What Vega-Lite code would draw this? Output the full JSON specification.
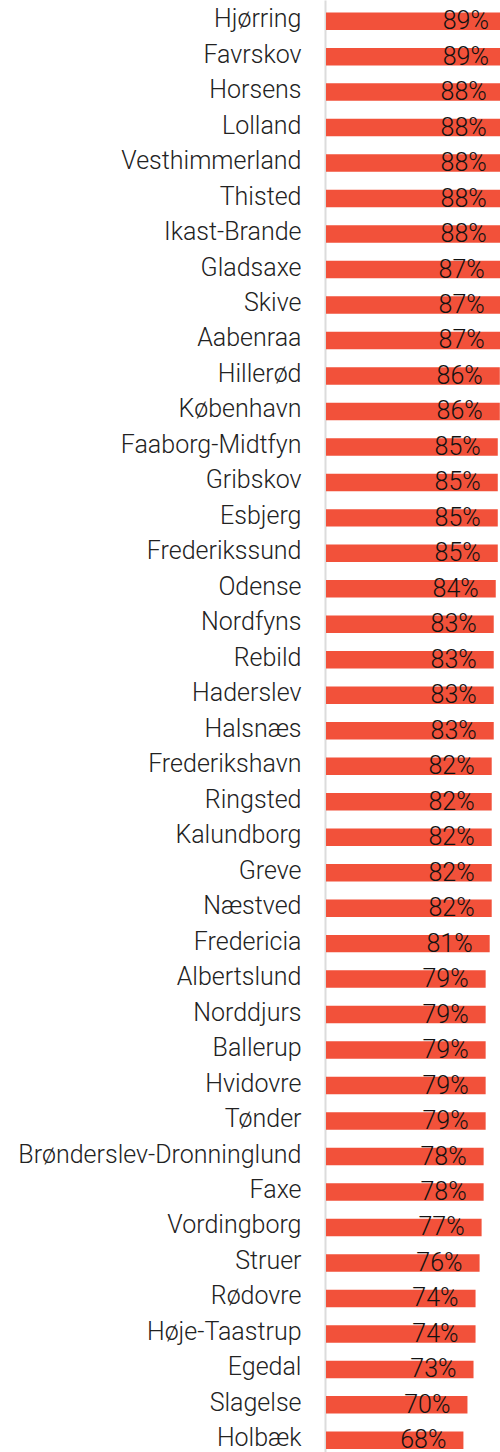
{
  "$schema": "https://vega.github.io/schema/vega-lite/v6.json",
  "autosize": {"type": "none"},
  "padding": {"left": 326, "top": 0, "right": 0, "bottom": 0},
  "width": 174,
  "height": 1452,
  "background": "white",
  "config": {"view": {"stroke": null}},
  "data": {"values": [
    {"kommune": "Hjørring", "pct": 0.89},
    {"kommune": "Favrskov", "pct": 0.89},
    {"kommune": "Horsens", "pct": 0.88},
    {"kommune": "Lolland", "pct": 0.88},
    {"kommune": "Vesthimmerland", "pct": 0.88},
    {"kommune": "Thisted", "pct": 0.88},
    {"kommune": "Ikast-Brande", "pct": 0.88},
    {"kommune": "Gladsaxe", "pct": 0.87},
    {"kommune": "Skive", "pct": 0.87},
    {"kommune": "Aabenraa", "pct": 0.87},
    {"kommune": "Hillerød", "pct": 0.86},
    {"kommune": "København", "pct": 0.86},
    {"kommune": "Faaborg-Midtfyn", "pct": 0.85},
    {"kommune": "Gribskov", "pct": 0.85},
    {"kommune": "Esbjerg", "pct": 0.85},
    {"kommune": "Frederikssund", "pct": 0.85},
    {"kommune": "Odense", "pct": 0.84},
    {"kommune": "Nordfyns", "pct": 0.83},
    {"kommune": "Rebild", "pct": 0.83},
    {"kommune": "Haderslev", "pct": 0.83},
    {"kommune": "Halsnæs", "pct": 0.83},
    {"kommune": "Frederikshavn", "pct": 0.82},
    {"kommune": "Ringsted", "pct": 0.82},
    {"kommune": "Kalundborg", "pct": 0.82},
    {"kommune": "Greve", "pct": 0.82},
    {"kommune": "Næstved", "pct": 0.82},
    {"kommune": "Fredericia", "pct": 0.81},
    {"kommune": "Albertslund", "pct": 0.79},
    {"kommune": "Norddjurs", "pct": 0.79},
    {"kommune": "Ballerup", "pct": 0.79},
    {"kommune": "Hvidovre", "pct": 0.79},
    {"kommune": "Tønder", "pct": 0.79},
    {"kommune": "Brønderslev-Dronninglund", "pct": 0.78},
    {"kommune": "Faxe", "pct": 0.78},
    {"kommune": "Vordingborg", "pct": 0.77},
    {"kommune": "Struer", "pct": 0.76},
    {"kommune": "Rødovre", "pct": 0.74},
    {"kommune": "Høje-Taastrup", "pct": 0.74},
    {"kommune": "Egedal", "pct": 0.73},
    {"kommune": "Slagelse", "pct": 0.70},
    {"kommune": "Holbæk", "pct": 0.68}
  ]},
  "encoding": {
    "y": {
      "field": "kommune", "type": "nominal", "sort": null,
      "scale": {"paddingInner": 0.507, "paddingOuter": 0.216, "align": 0.81},
      "axis": {
        "title": null, "ticks": false, "domain": true, "domainColor": "#dcdcdc", "domainWidth": 2,
        "offset": 1, "labelFont": "Roboto", "labelFontSize": 25, "labelFontWeight": 300,
        "labelColor": "#222222", "labelPadding": 24, "labelLimit": 400, "labelOffset": -2
      }
    }
  },
  "layer": [
    {
      "mark": {"type": "bar", "color": "#f2513a", "clip": true},
      "encoding": {
        "x": {"field": "pct", "type": "quantitative", "scale": {"domain": [0, 0.861], "nice": false, "zero": true}, "axis": null}
      }
    },
    {
      "mark": {"type": "text", "align": "right", "baseline": "middle", "dx": -17, "font": "Roboto", "fontSize": 25, "fontWeight": 300, "color": "#111111"},
      "encoding": {
        "x": {"field": "pct", "type": "quantitative"},
        "text": {"field": "pct", "type": "quantitative", "format": ".0%"}
      }
    }
  ]
}
